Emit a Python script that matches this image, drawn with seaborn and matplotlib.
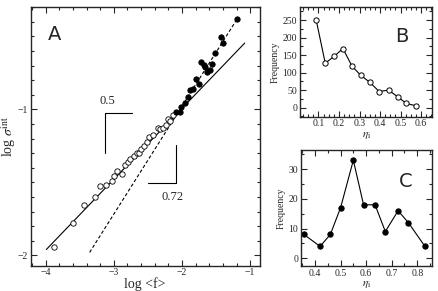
import matplotlib
matplotlib.use("Agg")
import matplotlib.pyplot as plt
import seaborn as sns
import pandas as pd
import numpy as np
from matplotlib.ticker import MultipleLocator

sns.set_style("ticks")
plt.rcParams["font.family"] = ["Liberation Serif", "DejaVu Serif"]
plt.rcParams["mathtext.fontset"] = "stix"

# Panel A: open circles (small <f>) and filled circles (large <f>)
open_x = [-3.883, -3.594, -3.443, -3.282, -3.198, -3.120, -3.032, -2.998, -2.959, -2.881,
          -2.837, -2.798, -2.759, -2.710, -2.666, -2.630, -2.603, -2.558, -2.519, -2.480,
          -2.431, -2.358, -2.320, -2.280, -2.241, -2.211, -2.180, -2.133]
open_y = [-1.945, -1.778, -1.654, -1.600, -1.522, -1.519, -1.490, -1.455, -1.421, -1.444,
          -1.380, -1.362, -1.336, -1.318, -1.300, -1.295, -1.268, -1.247, -1.224, -1.188,
          -1.174, -1.126, -1.135, -1.128, -1.103, -1.064, -1.080, -1.041]
fill_x = [-2.084, -2.035, -2.011, -1.962, -1.913, -1.879, -1.840, -1.791, -1.757, -1.722,
          -1.683, -1.659, -1.634, -1.595, -1.561, -1.517, -1.434, -1.394, -1.194]
fill_y = [-1.016, -1.014, -0.984, -0.957, -0.918, -0.867, -0.863, -0.794, -0.824, -0.677,
          -0.696, -0.709, -0.746, -0.732, -0.686, -0.613, -0.503, -0.545, -0.382]

# fitted lines (end points)
fit_x = [-3.99, -1.08]
fit_y = [-1.959, -0.545]
dash_x = [-3.355, -1.194]
dash_y = [-1.979, -0.382]

# slope brackets
br1_x = [-2.729, -3.130, -3.130]
br1_y = [-1.025, -1.025, -1.300]
br2_x = [-2.500, -2.094, -2.094]
br2_y = [-1.501, -1.501, -1.243]

# Panel B: distribution of eta_i
b_eta = [0.089, 0.133, 0.177, 0.219, 0.263, 0.305, 0.351, 0.396, 0.442, 0.486, 0.528, 0.576]
b_freq = [250, 127, 147, 169, 119, 93, 72, 46, 50, 31, 12, 5]

# Panel C: distribution of eta_i
c_eta = [0.357, 0.420, 0.460, 0.500, 0.550, 0.590, 0.635, 0.675, 0.725, 0.765, 0.830]
c_freq = [8, 4, 8, 17, 33, 18, 18, 9, 16, 12, 4]

fig = plt.figure(figsize=(4.38, 2.91), dpi=100)
axA = fig.add_axes([0.070, 0.087, 0.523, 0.888])
axB = fig.add_axes([0.685, 0.599, 0.302, 0.376])
axC = fig.add_axes([0.687, 0.086, 0.299, 0.399])

lw = 0.8
# ---- A
sns.lineplot(x=fit_x, y=fit_y, ax=axA, color="black", lw=lw)
sns.lineplot(x=dash_x, y=dash_y, ax=axA, color="black", lw=lw, linestyle=(0, (3, 2)))
sns.scatterplot(x=open_x, y=open_y, ax=axA, marker="o", s=15, facecolor="white",
                edgecolor="black", linewidth=0.6, zorder=3)
sns.scatterplot(x=fill_x, y=fill_y, ax=axA, marker="o", s=15, color="black",
                edgecolor="black", linewidth=0.6, zorder=3)
axA.plot(br1_x, br1_y, color="black", lw=lw)
axA.plot(br2_x, br2_y, color="black", lw=lw)
axA.text(-3.096, -0.94, "0.5", fontsize=9, ha="center", va="center")
axA.text(-2.143, -1.597, "0.72", fontsize=9, ha="center", va="center")
axA.text(0.105, 0.895, "A", transform=axA.transAxes, fontsize=14,
         family="DejaVu Sans", ha="center", va="center")
axA.set_xlim(-4.22, -0.86)
axA.set_ylim(-2.07, -0.30)
axA.xaxis.set_major_locator(MultipleLocator(1))
axA.xaxis.set_minor_locator(MultipleLocator(0.2))
axA.yaxis.set_major_locator(MultipleLocator(1))
axA.yaxis.set_minor_locator(MultipleLocator(0.1))
axA.set_xlabel("log <f>", fontsize=10, labelpad=0)
axA.set_ylabel(r"log $\sigma^{\mathrm{int}}$", fontsize=10, labelpad=0)

# ---- B
sns.lineplot(x=b_eta, y=b_freq, ax=axB, color="black", lw=lw, marker="o", markersize=3.8,
             markerfacecolor="white", markeredgecolor="black", markeredgewidth=0.7)
axB.text(0.77, 0.73, "B", transform=axB.transAxes, fontsize=14,
         family="DejaVu Sans", ha="center", va="center")
axB.set_xlim(0.01, 0.655)
axB.set_ylim(-26, 287)
axB.xaxis.set_minor_locator(MultipleLocator(0.025))
axB.yaxis.set_major_locator(MultipleLocator(50))
axB.yaxis.set_minor_locator(MultipleLocator(25))
axB.set_xticks([0.1, 0.2, 0.3, 0.4, 0.5, 0.6])
axB.set_xlabel(r"$\eta_{\mathrm{i}}$", fontsize=8, labelpad=1)
axB.set_ylabel("Frequency", fontsize=7, labelpad=2)

# ---- C
sns.lineplot(x=c_eta, y=c_freq, ax=axC, color="black", lw=lw, marker="o", markersize=3.8,
             markerfacecolor="black", markeredgecolor="black")
axC.text(0.80, 0.73, "C", transform=axC.transAxes, fontsize=14,
         family="DejaVu Sans", ha="center", va="center")
axC.set_xlim(0.345, 0.857)
axC.set_ylim(-2.6, 36.5)
axC.xaxis.set_major_locator(MultipleLocator(0.1))
axC.xaxis.set_minor_locator(MultipleLocator(0.05))
axC.yaxis.set_major_locator(MultipleLocator(10))
axC.yaxis.set_minor_locator(MultipleLocator(5))
axC.set_xlabel(r"$\eta_{\mathrm{i}}$", fontsize=8, labelpad=1)
axC.set_ylabel("Frequency", fontsize=7, labelpad=2)

for ax in (axA, axB, axC):
    ax.tick_params(which="both", direction="in", top=True, right=True,
                   labelsize=7, width=0.8, pad=2)
    ax.tick_params(which="major", length=4)
    ax.tick_params(which="minor", length=2)
    for sp in ax.spines.values():
        sp.set_linewidth(1.0)

fig.savefig("out.png", dpi=100)
